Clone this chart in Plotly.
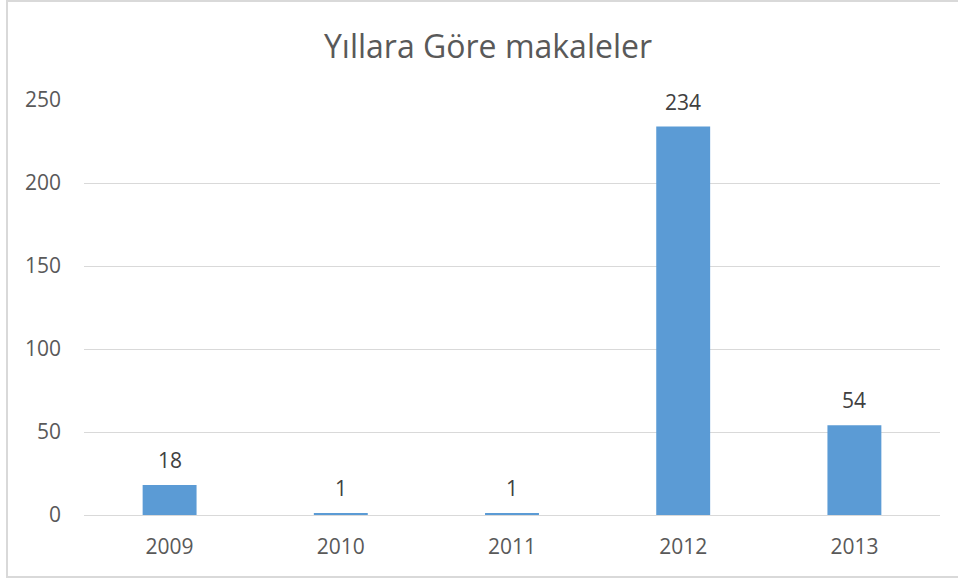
import plotly.graph_objects as go

years = [2009, 2010, 2011, 2012, 2013]
counts = [18, 1, 1, 234, 54]
y_ticks = [0, 50, 100, 150, 200, 250]

W, H = 958, 581
L, R, T, B = 84, 18, 100, 66
pw, ph = W - L - R, H - T - B

def px(x):
    return (x - L) / pw

def py(y):
    return (H - B - y) / ph

fig = go.Figure(go.Bar(
    x=years, y=counts,
    marker=dict(color="#5B9BD5", line=dict(width=0)),
    hoverinfo="x+y",
))

for yr, v in zip(years, counts):
    fig.add_annotation(x=yr, y=v, text=str(v), showarrow=False,
                       xref="x", yref="y",
                       yanchor="middle", yshift=25,
                       font=dict(size=21, color="#404040", family="Open Sans"))

fig.update_layout(
    width=W, height=H,
    margin=dict(l=L, r=R, t=T, b=B),
    paper_bgcolor="white", plot_bgcolor="white",
    bargap=0.685,
    showlegend=False,
    title=dict(text="Yıllara Göre makaleler", x=488 / W, xanchor="center", xref="container",
               y=1 - 47 / H, yanchor="middle", yref="container",
               font=dict(size=32, color="#595959", family="Open Sans")),
    font=dict(family="Open Sans", color="#595959", size=21),
    xaxis=dict(type="linear", range=[years[0] - 0.5, years[-1] + 0.5],
               tickvals=years, ticktext=[str(y) for y in years],
               showgrid=False, showline=True, linecolor="#D9D9D9", linewidth=1,
               zeroline=False,
               ticks="", tickfont=dict(size=21, color="#595959"), ticklabelstandoff=13),
    yaxis=dict(range=[0, 250], tickvals=y_ticks, showgrid=True, gridcolor="#D9D9D9",
               gridwidth=1, zeroline=False, showline=False, ticks="",
               tickfont=dict(size=21, color="#595959"), ticklabelstandoff=22),
    shapes=[dict(type="rect", xref="paper", yref="paper",
                 x0=px(7), x1=px(962), y0=py(577), y1=py(1),
                 line=dict(color="#D9D9D9", width=2), fillcolor="rgba(0,0,0,0)", layer="below")],
)

fig.write_html("out.html", config={"displayModeBar": False},
               post_script="document.body.style.margin='0';document.body.style.overflow='hidden';")
